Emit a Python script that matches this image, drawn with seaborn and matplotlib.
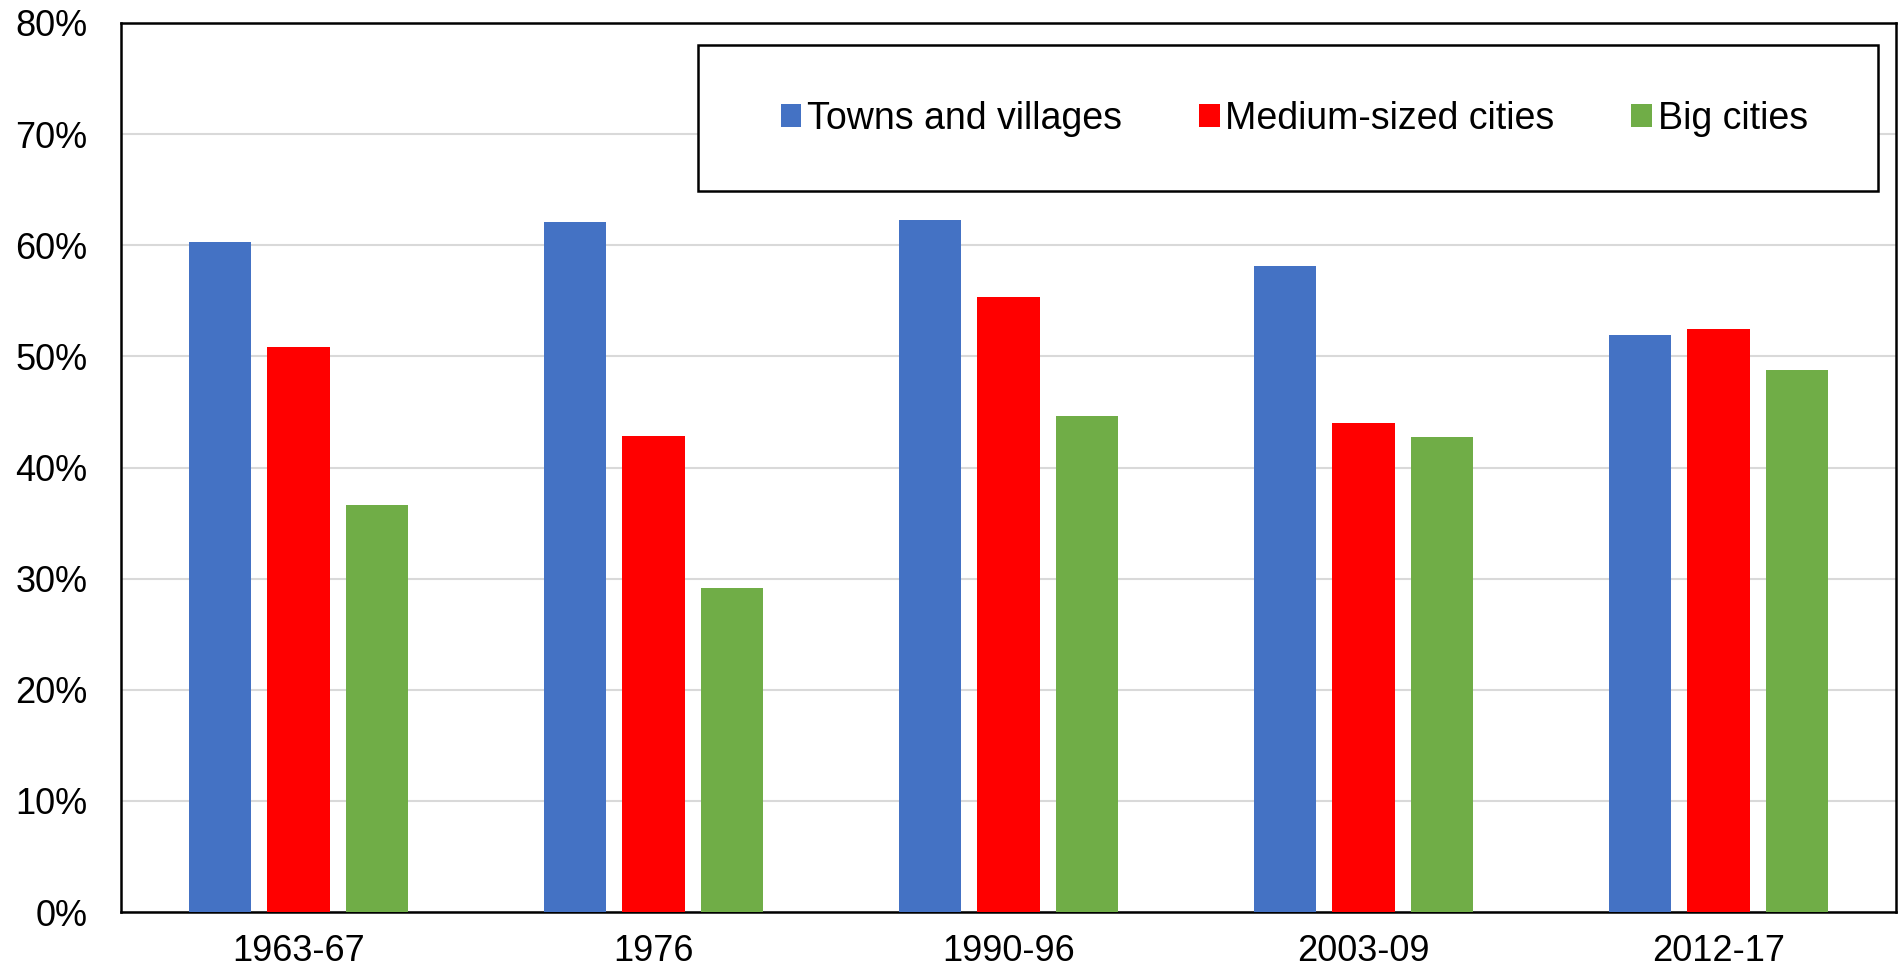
import matplotlib
matplotlib.use("Agg")
import matplotlib.pyplot as plt
from matplotlib.patches import Rectangle
from matplotlib.ticker import PercentFormatter
import numpy as np
import pandas as pd
import seaborn as sns

# data (percent)
periods = ['1963-67', '1976', '1990-96', '2003-09', '2012-17']
groups = ['Towns and villages', 'Medium-sized cities', 'Big cities']
towns = [60.3, 62.1, 62.3, 58.1, 51.9]
medium = [50.8, 42.8, 55.3, 44.0, 52.5]
big = [36.6, 29.2, 44.6, 42.7, 48.8]
colors = ['#4472C4', '#FF0000', '#70AD47']

df = pd.DataFrame({
    'period': periods * 3,
    'group': [groups[0]] * 5 + [groups[1]] * 5 + [groups[2]] * 5,
    'share': towns + medium + big,
})

sns.set_theme(style='white')
plt.rcParams['font.family'] = ['Liberation Sans', 'DejaVu Sans']
plt.rcParams['text.color'] = 'black'

fig = plt.figure(figsize=(18.98, 9.73), dpi=100)
ax = fig.add_axes([121 / 1898, 1 - 912 / 973, (1896 - 121) / 1898, (912 - 23) / 973])

sns.barplot(data=df, x='period', y='share', hue='group', order=periods, hue_order=groups,
            palette=colors, saturation=1, width=0.663, gap=0.2, errorbar=None,
            linewidth=0, ax=ax, zorder=3)

ax.set_xlim(-0.5, 4.5)
ax.set_ylim(0, 80)
ax.set_yticks(np.arange(0, 81, 10))
ax.yaxis.set_major_formatter(PercentFormatter(decimals=0))
ax.set_xlabel('')
ax.set_ylabel('')
ax.grid(axis='y', color='#d9d9d9', linewidth=1.5, zorder=0)
ax.grid(axis='x', visible=False)
ax.set_axisbelow(True)
ax.tick_params(axis='y', length=0, pad=24, labelsize=26, labelcolor='black')
ax.tick_params(axis='x', length=0, pad=16, labelsize=26, labelcolor='black')
for s in ax.spines.values():
    s.set_visible(True)
    s.set_color('black')
    s.set_linewidth(1.8)

# legend: no frame, box drawn separately
ax.legend_.remove()
handles, labels = ax.get_legend_handles_labels()
leg = ax.legend(handles, labels, ncol=3, loc='center', bbox_to_anchor=(0.661, 0.892),
                frameon=False, fontsize=27, handlelength=0.55, handleheight=0.55,
                handletextpad=0.15, columnspacing=2.05, labelcolor='black')
ax.add_patch(Rectangle((0.325, 0.811), 0.665, 0.164, transform=ax.transAxes,
                       facecolor='white', edgecolor='black', linewidth=1.8, zorder=4))
leg.set_zorder(5)

fig.savefig('out.png', dpi=100)
